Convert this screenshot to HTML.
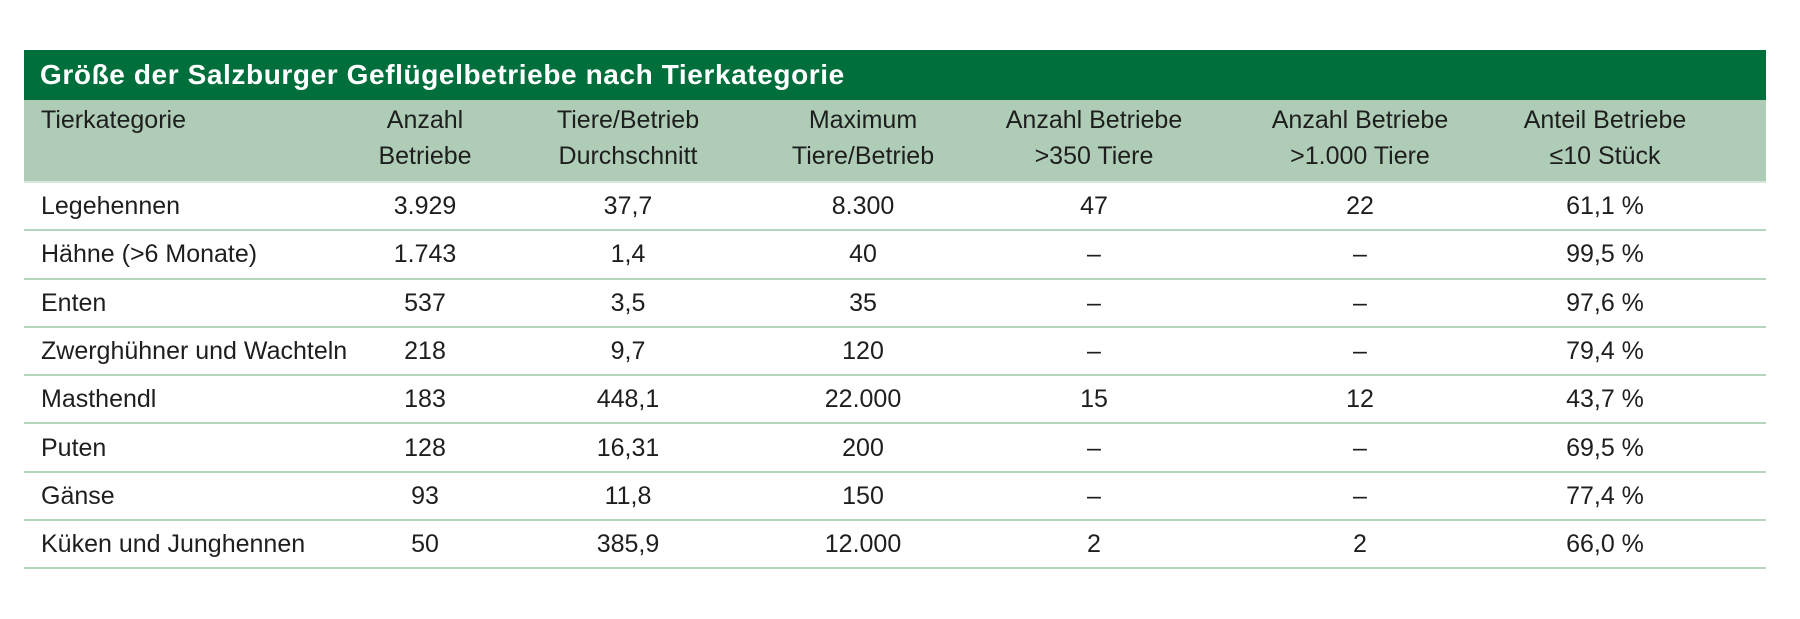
<!DOCTYPE html>
<html><head><meta charset="utf-8"><style>
body{margin:0;width:1800px;height:619px;background:#fff;font-family:"Liberation Sans",sans-serif;color:#1e1e1e;position:relative;overflow:hidden}
.title{position:absolute;left:24px;top:50px;width:1742px;height:50px;background:#006f3b;color:#fff;font-weight:bold;font-size:28px;line-height:50px;box-sizing:border-box;padding-left:16px;letter-spacing:0.6px}
.head{position:absolute;left:24px;top:100px;width:1742px;height:83px;background:#afcdb6;border-bottom:2px solid #d6e8da;box-sizing:border-box}
.c{position:absolute;text-align:center;font-size:25px;line-height:36px;transform:translateX(-50%);white-space:nowrap}
.l{position:absolute;font-size:25px;white-space:nowrap;left:41px}
.row{position:absolute;left:24px;width:1742px;border-bottom:2px solid #b5d6bc}
</style></head><body>
<div class="title">Größe der Salzburger Geflügelbetriebe nach Tierkategorie</div>
<div class="head"></div>
<div class="l" style="top:102px;line-height:36px">Tierkategorie</div>
<div class="c" style="left:425px;top:102px">Anzahl<br>Betriebe</div>
<div class="c" style="left:628px;top:102px">Tiere/Betrieb<br>Durchschnitt</div>
<div class="c" style="left:863px;top:102px">Maximum<br>Tiere/Betrieb</div>
<div class="c" style="left:1094px;top:102px">Anzahl Betriebe<br>&gt;350 Tiere</div>
<div class="c" style="left:1360px;top:102px">Anzahl Betriebe<br>&gt;1.000 Tiere</div>
<div class="c" style="left:1605px;top:102px">Anteil Betriebe<br>≤10 Stück</div>
<div id="rows"></div>
<script>
var d=[["Legehennen","3.929","37,7","8.300","47","22","61,1 %"],
["Hähne (>6 Monate)","1.743","1,4","40","–","–","99,5 %"],
["Enten","537","3,5","35","–","–","97,6 %"],
["Zwerghühner und Wachteln","218","9,7","120","–","–","79,4 %"],
["Masthendl","183","448,1","22.000","15","12","43,7 %"],
["Puten","128","16,31","200","–","–","69,5 %"],
["Gänse","93","11,8","150","–","–","77,4 %"],
["Küken und Junghennen","50","385,9","12.000","2","2","66,0 %"]];
var xs=[425,628,863,1094,1360,1605],h="";
d.forEach(function(r,i){var t=183+i*48.3;
h+='<div class="row" style="top:'+t+'px;height:'+(48.3-2)+'px"></div>';
h+='<div class="l" style="top:'+t+'px;line-height:47px">'+r[0].replace(">","&gt;")+'</div>';
for(var j=1;j<7;j++)h+='<div class="c" style="left:'+xs[j-1]+'px;top:'+t+'px;line-height:47px">'+r[j]+'</div>';});
document.getElementById("rows").innerHTML=h;
</script>
</body></html>
